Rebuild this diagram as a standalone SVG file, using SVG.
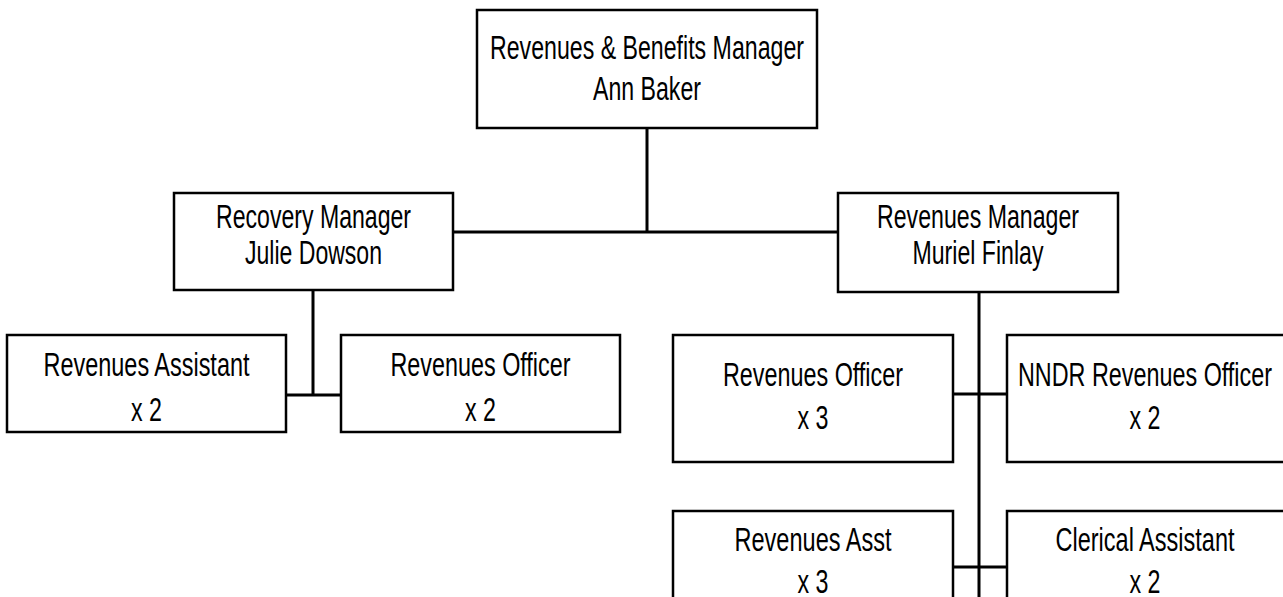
<svg xmlns="http://www.w3.org/2000/svg" width="1283" height="597" viewBox="0 0 1283 597">
  <style>
    .box { fill: #ffffff; stroke: #000000; stroke-width: 2.5; }
    .link { fill: none; stroke: #000000; stroke-width: 3; }
    .lbl { font-family: "Liberation Sans", Arial, sans-serif; font-size: 33px; fill: #000000; text-anchor: middle; }
  </style>
  <rect width="1283" height="597" fill="#ffffff"/>

  <!-- connectors -->
  <g id="connectors">
    <path class="link" d="M647 128 V232 M453 232 H838"/>
    <path class="link" d="M313 290 V395 M286 395 H341"/>
    <path class="link" d="M979 292 V597 M953 394 H1007 M953 567 H1007"/>
  </g>

  <g id="node-rb-manager">
    <rect class="box" x="477" y="10" width="340" height="118"/>
    <text class="lbl" x="647" y="59" textLength="314" lengthAdjust="spacingAndGlyphs">Revenues &amp; Benefits Manager</text>
    <text class="lbl" x="647" y="100" textLength="108" lengthAdjust="spacingAndGlyphs">Ann Baker</text>
  </g>

  <g id="node-recovery-manager">
    <rect class="box" x="174" y="193" width="279" height="97"/>
    <text class="lbl" x="313.5" y="228" textLength="195" lengthAdjust="spacingAndGlyphs">Recovery Manager</text>
    <text class="lbl" x="313.5" y="264" textLength="137" lengthAdjust="spacingAndGlyphs">Julie Dowson</text>
  </g>

  <g id="node-revenues-manager">
    <rect class="box" x="838" y="193" width="280" height="99"/>
    <text class="lbl" x="978" y="228" textLength="202" lengthAdjust="spacingAndGlyphs">Revenues Manager</text>
    <text class="lbl" x="978" y="264" textLength="131" lengthAdjust="spacingAndGlyphs">Muriel Finlay</text>
  </g>

  <g id="node-revenues-assistant">
    <rect class="box" x="7" y="335" width="279" height="97"/>
    <text class="lbl" x="146.5" y="376" textLength="206" lengthAdjust="spacingAndGlyphs">Revenues Assistant</text>
    <text class="lbl" x="146.5" y="421" textLength="31" lengthAdjust="spacingAndGlyphs">x 2</text>
  </g>

  <g id="node-revenues-officer-rec">
    <rect class="box" x="341" y="335" width="279" height="97"/>
    <text class="lbl" x="480.5" y="376" textLength="180" lengthAdjust="spacingAndGlyphs">Revenues Officer</text>
    <text class="lbl" x="480.5" y="421" textLength="31" lengthAdjust="spacingAndGlyphs">x 2</text>
  </g>

  <g id="node-revenues-officer-rev">
    <rect class="box" x="673" y="335" width="280" height="127"/>
    <text class="lbl" x="813" y="386" textLength="180" lengthAdjust="spacingAndGlyphs">Revenues Officer</text>
    <text class="lbl" x="813" y="429" textLength="31" lengthAdjust="spacingAndGlyphs">x 3</text>
  </g>

  <g id="node-nndr-officer">
    <rect class="box" x="1007" y="335" width="280" height="127"/>
    <text class="lbl" x="1145" y="386" textLength="254" lengthAdjust="spacingAndGlyphs">NNDR Revenues Officer</text>
    <text class="lbl" x="1145" y="429" textLength="31" lengthAdjust="spacingAndGlyphs">x 2</text>
  </g>

  <g id="node-revenues-asst">
    <rect class="box" x="673" y="511" width="280" height="127"/>
    <text class="lbl" x="813" y="551" textLength="157" lengthAdjust="spacingAndGlyphs">Revenues Asst</text>
    <text class="lbl" x="813" y="593" textLength="31" lengthAdjust="spacingAndGlyphs">x 3</text>
  </g>

  <g id="node-clerical-assistant">
    <rect class="box" x="1007" y="511" width="280" height="127"/>
    <text class="lbl" x="1145" y="551" textLength="179" lengthAdjust="spacingAndGlyphs">Clerical Assistant</text>
    <text class="lbl" x="1145" y="593" textLength="31" lengthAdjust="spacingAndGlyphs">x 2</text>
  </g>
</svg>
